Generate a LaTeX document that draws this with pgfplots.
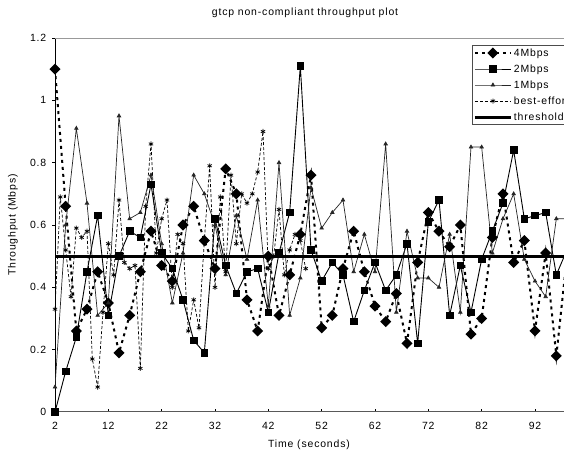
\documentclass[border=0pt]{standalone}
\usepackage{pgfplots}
\pgfplotsset{compat=1.18}
\usepackage{fontspec}
\setmainfont{Liberation Sans}[LetterSpace=8]
\usetikzlibrary{calc}

\begin{document}
\fontsize{10.5}{12}\selectfont
\begin{tikzpicture}
\path[use as bounding box] (-55bp,-41bp) rectangle (509bp,412bp);
\begin{axis}[
  name=ax, at={(0,0)}, anchor=south west,
  scale only axis, width=509bp, height=374bp,
  xmin=2, xmax=97.44, ymin=0, ymax=1.2,
  axis x line*=bottom, axis y line*=left,
  x axis line style={black!65, line width=1bp},
  y axis line style={black, line width=1bp},
  xtick={2,12,...,92}, ytick={0,0.2,0.4,0.6,0.8,1,1.2},
  tick align=inside, major tick length=3bp,
  tick style={black, line width=0.6bp},
  y tick style={xshift=-3bp},
  ticklabel style={font=\fontsize{10.5}{12}\selectfont},
  xticklabel style={yshift=-7bp},
  yticklabel style={xshift=-5bp},
  /pgf/number format/assume math mode=true,
  legend cell align=left,
  legend style={at={(0.8193,0.981)}, anchor=north west, draw=black!70,
    line width=0.8bp, fill=white, font=\fontsize{10.5}{12}\selectfont,
    inner sep=1bp, row sep=3bp,
    nodes={inner sep=1.5bp, text height=8bp, text depth=2bp}},
  legend image code/.code={
    \draw[mark repeat=2,mark phase=2,#1] plot coordinates {(0bp,0bp) (18bp,0bp) (36bp,0bp)};},
  every axis plot/.append style={black},
]
% 4Mbps
\addplot[line width=2bp, dash pattern=on 3bp off 4bp, mark=square*, mark size=2.9bp,
  mark options={solid, rotate=45}] coordinates {
(2,1.10) (4,0.66) (6,0.26) (8,0.33) (10,0.45) (12,0.35) (14,0.19) (16,0.31)
(18,0.45) (20,0.58) (22,0.47) (24,0.42) (26,0.60) (28,0.66) (30,0.55) (32,0.46)
(34,0.78) (36,0.70) (38,0.36) (40,0.26) (42,0.50) (44,0.31) (46,0.44) (48,0.57)
(50,0.76) (52,0.27) (54,0.31) (56,0.46) (58,0.58) (60,0.45) (62,0.34) (64,0.29)
(66,0.38) (68,0.22) (70,0.48) (72,0.64) (74,0.58) (76,0.53) (78,0.60) (80,0.25)
(82,0.30) (84,0.56) (86,0.70) (88,0.48) (90,0.55) (92,0.26) (94,0.51) (96,0.18)
(98,0.50)};
\addlegendentry{4Mbps}
% 2Mbps
\addplot[line width=0.9bp, mark=square*, mark size=3.3bp] coordinates {
(2,0) (4,0.13) (6,0.24) (8,0.45) (10,0.63) (12,0.31) (14,0.50) (16,0.58)
(18,0.56) (20,0.73) (22,0.51) (24,0.46) (26,0.36) (28,0.23) (30,0.19) (32,0.62)
(34,0.47) (36,0.38) (38,0.45) (40,0.46) (42,0.32) (44,0.51) (46,0.64) (48,1.11)
(50,0.52) (52,0.42) (54,0.48) (56,0.44) (58,0.29) (60,0.39) (62,0.48) (64,0.39)
(66,0.44) (68,0.54) (70,0.22) (72,0.61) (74,0.68) (76,0.31) (78,0.47) (80,0.32)
(82,0.49) (84,0.58) (86,0.67) (88,0.84) (90,0.62) (92,0.63) (94,0.64) (96,0.44)
(98,0.52)};
\addlegendentry{2Mbps}
% 1Mbps
\addplot[line width=0.7bp, black!85, mark=triangle*, mark size=2bp] coordinates {
(2,0.08) (4,0.60) (6,0.91) (8,0.67) (10,0.31) (12,0.35) (14,0.95) (16,0.62)
(18,0.64) (20,0.76) (22,0.54) (24,0.35) (26,0.51) (28,0.76) (30,0.70) (32,0.60)
(34,0.44) (36,0.63) (38,0.49) (40,0.68) (42,0.34) (44,0.80) (46,0.31) (48,0.43)
(50,0.72) (52,0.59) (54,0.64) (56,0.68) (58,0.45) (60,0.57) (62,0.45) (64,0.86)
(66,0.32) (68,0.58) (70,0.43) (72,0.43) (74,0.40) (76,0.57) (78,0.32) (80,0.85)
(82,0.85) (84,0.51) (86,0.62) (88,0.70) (90,0.49) (92,0.42) (94,0.37) (96,0.62)
(98,0.62)};
\addlegendentry{1Mbps}
% best-effort
\addplot[line width=0.7bp, dash pattern=on 3bp off 2bp, mark=asterisk, mark size=2.5bp,
  mark options={solid}] coordinates {
(2,0.33) (3,0.69) (4,0.52) (5,0.37) (6,0.59) (7,0.56) (8,0.58) (9,0.17)
(10,0.08) (11,0.32) (12,0.54) (13,0.44) (14,0.68) (15,0.48) (16,0.46) (17,0.47)
(18,0.14) (19,0.66) (20,0.86) (21,0.51) (22,0.62) (23,0.68) (24,0.40) (25,0.57)
(26,0.54) (27,0.26) (28,0.36) (29,0.27) (30,0.55) (31,0.79) (32,0.40) (33,0.69)
(34,0.45) (35,0.76) (36,0.54) (37,0.70) (38,0.67) (39,0.70) (40,0.77) (41,0.90)
(42,0.46) (43,0.50) (44,0.65) (45,0.44) (46,0.52) (47,0.57) (48,0.55) (49,0.46)};
\addlegendentry{best-effor}
% threshold
\addplot[line width=3bp] coordinates {(0,0.5) (100,0.5)};
\addlegendentry{threshold}
\end{axis}
\draw[black!40, line width=0.8bp] (ax.north west) -- (ax.north east);
\node at (250bp,399bp) {gtcp non-compliant throughput plot};
\node[rotate=90] at (-42bp,187bp) {Throughput (Mbps)};
\node at (254bp,-33bp) {Time (seconds)};
\end{tikzpicture}
\end{document}
